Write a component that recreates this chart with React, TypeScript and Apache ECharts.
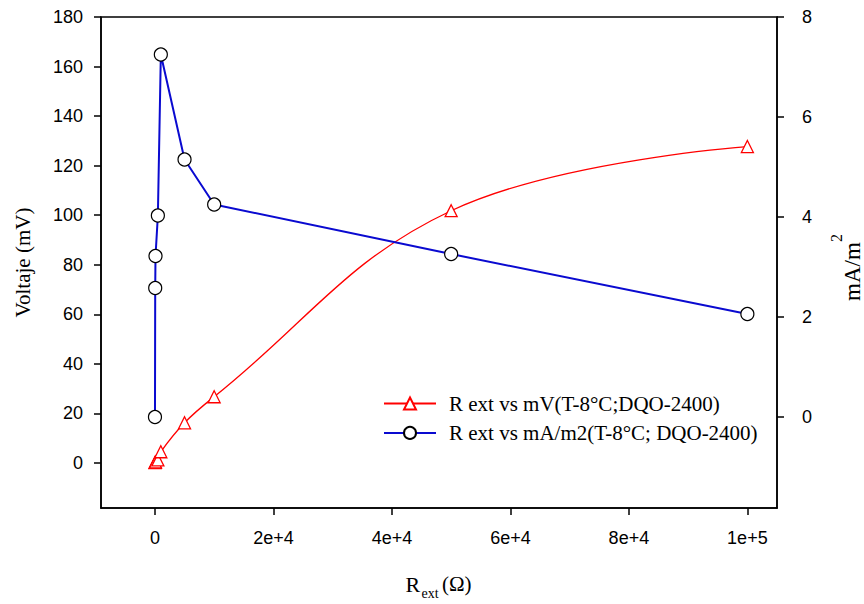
import React, { useEffect, useRef } from "react";
import * as echarts from "echarts";

// Data
const rExt = [10, 50, 100, 500, 1000, 5000, 10000, 50000, 100000];
const voltage = [0.1, 0.2, 0.4, 1.2, 4.5, 16.2, 26.7, 101.8, 127.7];
const currentDensity = [0, 2.58, 3.22, 4.03, 7.25, 5.15, 4.25, 3.26, 2.06];

const xTicks = [0, 20000, 40000, 60000, 80000, 100000];
const xTickLabels = ["0", "2e+4", "4e+4", "6e+4", "8e+4", "1e+5"];
const yLeftTicks = [0, 20, 40, 60, 80, 100, 120, 140, 160, 180];
const yRightTicks = [0, 2, 4, 6, 8];

const seriesNames = ["R ext vs mV(T-8°C;DQO-2400)", "R ext vs mA/m2(T-8°C; DQO-2400)"];

const SANS = '"Liberation Sans", Arial, sans-serif';
const SERIF = '"Liberation Serif", "Times New Roman", serif';

export default function App() {
  const ref = useRef<HTMLDivElement>(null);
  useEffect(() => {
    if (!ref.current) return;
    const chart = echarts.init(ref.current, undefined, { renderer: "svg" });
    const redData = rExt.map((x, i) => [x, voltage[i]]);
    const blueData = rExt.map((x, i) => [x, currentDensity[i]]);
    const axisLine = { show: true, lineStyle: { color: "#000", width: 1.5 } };
    const tick = { show: true, inside: false, length: 7, lineStyle: { color: "#000", width: 1.5 } };
    chart.setOption({
      animation: false,
      backgroundColor: "#fff",
      grid: {
        left: 101,
        top: 17,
        right: 87,
        bottom: 96,
        show: true,
        borderColor: "#000",
        borderWidth: 1.5,
        backgroundColor: "transparent",
      },
      xAxis: {
        type: "value",
        min: -9100,
        max: 105000,
        axisLine: { ...axisLine, onZero: false },
        axisTick: { ...tick, customValues: xTicks },
        axisLabel: {
          customValues: xTicks,
          formatter: (v: number) => {
            const i = xTicks.indexOf(v);
            return i >= 0 ? xTickLabels[i] : "";
          },
          color: "#000",
          fontFamily: SANS,
          fontSize: 18,
          margin: 21,
        },
        splitLine: { show: false },
      },
      yAxis: [
        {
          type: "value",
          position: "left",
          min: -18.2,
          max: 180,
          axisLine: { ...axisLine, onZero: false },
          axisTick: { ...tick, customValues: yLeftTicks },
          axisLabel: {
            customValues: yLeftTicks,
            color: "#000",
            fontFamily: SANS,
            fontSize: 18,
            margin: 18,
          },
          splitLine: { show: false },
        },
        {
          type: "value",
          position: "right",
          min: -1.82,
          max: 8,
          axisLine: { ...axisLine, onZero: false },
          axisTick: { ...tick, customValues: yRightTicks },
          axisLabel: {
            customValues: yRightTicks,
            color: "#000",
            fontFamily: SANS,
            fontSize: 18,
            margin: 25,
          },
          splitLine: { show: false },
        },
      ],
      legend: {
        orient: "vertical",
        left: 383,
        top: 393,
        padding: 0,
        itemWidth: 52,
        itemHeight: 15,
        itemGap: 8.4,
        data: seriesNames,
        textStyle: {
          fontFamily: SERIF,
          fontSize: 21,
          lineHeight: 21,
          color: "#000",
          padding: [0, 0, 0, 8],
        },
      },
      series: [
        {
          name: seriesNames[0],
          type: "line",
          yAxisIndex: 0,
          data: redData,
          smooth: 0.4,
          symbol: "triangle",
          symbolSize: 12,
          showSymbol: true,
          lineStyle: { color: "#ff0000", width: 1.3 },
          itemStyle: { color: "#ffffff", borderColor: "#ff0000", borderWidth: 1.3 },
          z: 2,
        },
        {
          name: seriesNames[1],
          type: "line",
          yAxisIndex: 1,
          data: blueData,
          smooth: false,
          symbol: "circle",
          symbolSize: 13,
          showSymbol: true,
          lineStyle: { color: "#0a0ad0", width: 2 },
          itemStyle: { color: "#ffffff", borderColor: "#000000", borderWidth: 1.2 },
          z: 3,
        },
      ],
      graphic: [
        {
          type: "text",
          x: 23,
          y: 262.5,
          rotation: Math.PI / 2,
          style: {
            text: "Voltaje (mV)",
            font: `21px ${SERIF}`,
            fill: "#000",
            align: "center",
            verticalAlign: "middle",
          },
        },
        {
          type: "text",
          x: 852,
          y: 301,
          rotation: Math.PI / 2,
          style: {
            text: "mA/m",
            font: `23px ${SERIF}`,
            fill: "#000",
            align: "left",
            verticalAlign: "middle",
          },
        },
        {
          type: "text",
          x: 836.5,
          y: 242,
          rotation: Math.PI / 2,
          style: {
            text: "2",
            font: `16px ${SERIF}`,
            fill: "#000",
            align: "left",
            verticalAlign: "middle",
          },
        },
        {
          type: "text",
          x: 405.5,
          y: 584,
          style: {
            text: "R",
            font: `22px ${SERIF}`,
            fill: "#000",
            align: "left",
            verticalAlign: "middle",
          },
        },
        {
          type: "text",
          x: 421.5,
          y: 593.5,
          style: {
            text: "ext",
            font: `14px ${SERIF}`,
            fill: "#000",
            align: "left",
            verticalAlign: "middle",
          },
        },
        {
          type: "text",
          x: 442,
          y: 584,
          style: {
            text: "(Ω)",
            font: `21px ${SERIF}`,
            fill: "#000",
            align: "left",
            verticalAlign: "middle",
          },
        },
      ],
    });
    return () => chart.dispose();
  }, []);
  return (
    <div
      ref={ref}
      style={{ position: "fixed", left: 0, top: 0, width: 864, height: 604, background: "#fff" }}
    />
  );
}
